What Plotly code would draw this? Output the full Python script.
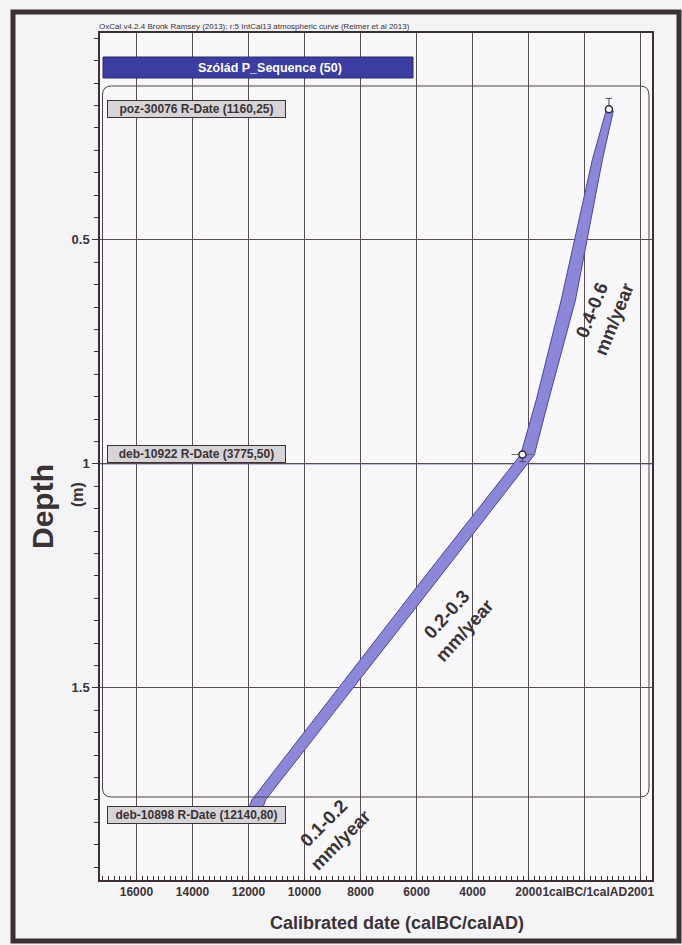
import numpy as np
import plotly.graph_objects as go

# ---- data -------------------------------------------------------------
# Calendar years: negative = calBC, positive = calAD
tick_years = [-16000, -14000, -12000, -10000, -8000, -6000, -4000, -2000, 0, 2000]
tick_labels = ["16000", "14000", "12000", "10000", "8000", "6000", "4000",
               "2000", "1calBC/1calAD", "2001"]

depth_ticks = [0.5, 1.0, 1.5]
depth_tick_labels = ["0.5", "1", "1.5"]

# Modelled age-depth envelope: older and younger edge at each depth (m)
band_depth = [0.212, 0.321, 0.634, 0.857, 0.980, 1.259, 1.750, 1.785]
band_old = [760, 270, -840, -1730, -2290, -5800, -11880, -12090]
band_young = [1020, 630, -330, -1290, -1800, -5255, -11390, -11580]

# Radiocarbon-dated samples
sample_names = ["poz-30076 R-Date (1160,25)",
                "deb-10922 R-Date (3775,50)",
                "deb-10898 R-Date (12140,80)"]
sample_depth = [0.208, 0.979, 1.783]
sample_age = [864, -2224, -12060]
sample_age_err = [0, 390, 0]
sample_depth_up = [0.024, 0, 0]
sample_depth_down = [0, 0.016, 0]

# Accumulation-rate notes
rate_labels = ["0.4-0.6<br>mm/year", "0.2-0.3<br>mm/year", "0.1-0.2<br>mm/year"]
rate_depth = [0.667, 1.353, 1.821]
rate_age = [650, -4632, -9022]
rate_angle = [-68, -48, -45]

# ---- layout constants ---------------------------------------------------
W, H = 682, 945
L, R, T, B = 100, 30, 33, 65
PW, PH = W - L - R, H - T - B
FONT = "Liberation Sans, Arial, sans-serif"
INK = "#3b3236"
GRID = "#5a4e54"


def xp(px):
    return (px - L) / PW


def yp(py):
    return (H - B - py) / PH


fig = go.Figure()

# envelope
fig.add_trace(go.Scatter(
    x=band_old + band_young[::-1],
    y=band_depth + band_depth[::-1],
    mode="lines", fill="toself",
    fillcolor="#8c87d6",
    line=dict(color="#4a45a2", width=1),
    hoverinfo="skip", showlegend=False,
))

# dated samples
fig.add_trace(go.Scatter(
    x=sample_age, y=sample_depth, mode="markers",
    marker=dict(symbol="circle", size=7, color="white",
                line=dict(color="#2e2a3a", width=1.5)),
    error_x=dict(type="data", array=sample_age_err, color="#6d6570",
                 thickness=1, width=0),
    error_y=dict(type="data", symmetric=False, array=sample_depth_down,
                 arrayminus=sample_depth_up, color="#4d4658",
                 thickness=1, width=3),
    showlegend=False, hoverinfo="skip",
))

shapes = []
# outer frame
shapes.append(dict(type="rect", xref="paper", yref="paper",
                   x0=xp(13), x1=xp(679), y0=yp(12), y1=yp(941),
                   line=dict(color="#3a3035", width=5), layer="above"))
# 1 m reference line
shapes.append(dict(type="line", xref="paper", yref="y", x0=0, x1=1,
                   y0=1.0, y1=1.0, line=dict(color="#6864ae", width=1),
                   layer="below"))
# rounded sequence box
x0, x1, y0, y1, r = 102.5, 649, 86, 797, 9
rx, ry = r / PW, r / PH
X0, X1, Y0, Y1 = xp(x0), xp(x1), yp(y1), yp(y0)
path = (f"M {X0+rx},{Y1} L {X1-rx},{Y1} Q {X1},{Y1} {X1},{Y1-ry} "
        f"L {X1},{Y0+ry} Q {X1},{Y0} {X1-rx},{Y0} "
        f"L {X0+rx},{Y0} Q {X0},{Y0} {X0},{Y0+ry} "
        f"L {X0},{Y1-ry} Q {X0},{Y1} {X0+rx},{Y1} Z")
shapes.append(dict(type="path", xref="paper", yref="paper", path=path,
                   line=dict(color="#4a4248", width=1), layer="above"))
# sequence title bar
shapes.append(dict(type="rect", xref="paper", yref="paper",
                   x0=xp(103), x1=xp(413), y0=yp(78), y1=yp(57),
                   fillcolor="#3b3da0", line=dict(color="#2a2a66", width=1),
                   layer="above"))

annotations = []
annotations.append(dict(
    text="OxCal v4.2.4 Bronk Ramsey (2013); r:5 IntCal13 atmospheric curve (Reimer et al 2013)",
    xref="paper", yref="paper", x=xp(97), y=1, xanchor="left", yanchor="bottom",
    showarrow=False, font=dict(family=FONT, size=8, color=INK)))
annotations.append(dict(
    text="Szólád P_Sequence (50)", xref="paper", yref="paper",
    x=xp(270), y=yp(67.5), xanchor="center", yanchor="middle", showarrow=False,
    font=dict(family=FONT, size=12.5, color="white", weight="bold")))

for name, d in zip(sample_names, sample_depth):
    annotations.append(dict(
        text=name, xref="paper", yref="y", x=xp(107), y=d,
        xanchor="left", yanchor="middle", showarrow=False,
        bgcolor="#d6d4d7", bordercolor="#3a3035", borderwidth=1, borderpad=1,
        width=175, align="center",
        font=dict(family=FONT, size=12, color=INK, weight="bold")))

for txt, d, a, ang in zip(rate_labels, rate_depth, rate_age, rate_angle):
    annotations.append(dict(
        text=txt, x=a, y=d, xref="x", yref="y", showarrow=False,
        textangle=ang, xanchor="center", yanchor="middle",
        font=dict(family=FONT, size=18.5, color=INK, weight="bold")))

annotations.append(dict(
    text="Depth", xref="paper", yref="paper", x=xp(43), y=yp(507),
    xanchor="center", yanchor="middle", textangle=-90, showarrow=False,
    font=dict(family=FONT, size=30, color=INK, weight="bold")))
annotations.append(dict(
    text="(m)", xref="paper", yref="paper", x=xp(78), y=yp(495),
    xanchor="center", yanchor="middle", textangle=-90, showarrow=False,
    font=dict(family=FONT, size=16, color=INK, weight="bold")))
annotations.append(dict(
    text="Calibrated date (calBC/calAD)", xref="paper", yref="paper",
    x=xp(397), y=yp(923), xanchor="center", yanchor="middle", showarrow=False,
    font=dict(family=FONT, size=18, color=INK, weight="bold")))

fig.update_layout(
    width=W, height=H,
    margin=dict(l=L, r=R, t=T, b=B, pad=0),
    paper_bgcolor="#f4f4f6", plot_bgcolor="#f8f8fa",
    shapes=shapes, annotations=annotations, showlegend=False,
)

fig.update_xaxes(
    range=[-17300, 2400], tickmode="array", tickvals=tick_years,
    ticktext=tick_labels, tickangle=0,
    tickfont=dict(family=FONT, size=12, color=INK, weight="bold"),
    showgrid=True, gridcolor=GRID, gridwidth=1, zeroline=False,
    showline=True, linecolor="#3a3035", linewidth=1.5, mirror=True,
    ticks="inside", ticklen=5, tickcolor="#3a3035",
    minor=dict(tickmode="array", tickvals=list(np.arange(-17200, 2401, 200)),
               ticks="inside", ticklen=4, tickcolor="#3a3035", showgrid=False),
)
fig.update_yaxes(
    range=[1.929, 0.038], tickmode="array", tickvals=depth_ticks,
    ticktext=depth_tick_labels,
    tickfont=dict(family=FONT, size=13, color=INK, weight="bold"),
    showgrid=True, gridcolor=GRID, gridwidth=1, zeroline=False,
    showline=True, linecolor="#3a3035", linewidth=1.5, mirror=True,
    ticks="outside", ticklen=6, tickcolor="#3a3035",
    minor=dict(tickmode="array", tickvals=list(np.round(np.arange(0.05, 1.95, 0.05), 2)),
               ticks="outside", ticklen=4, tickcolor="#3a3035", showgrid=False),
)

fig.write_html("out.html")
